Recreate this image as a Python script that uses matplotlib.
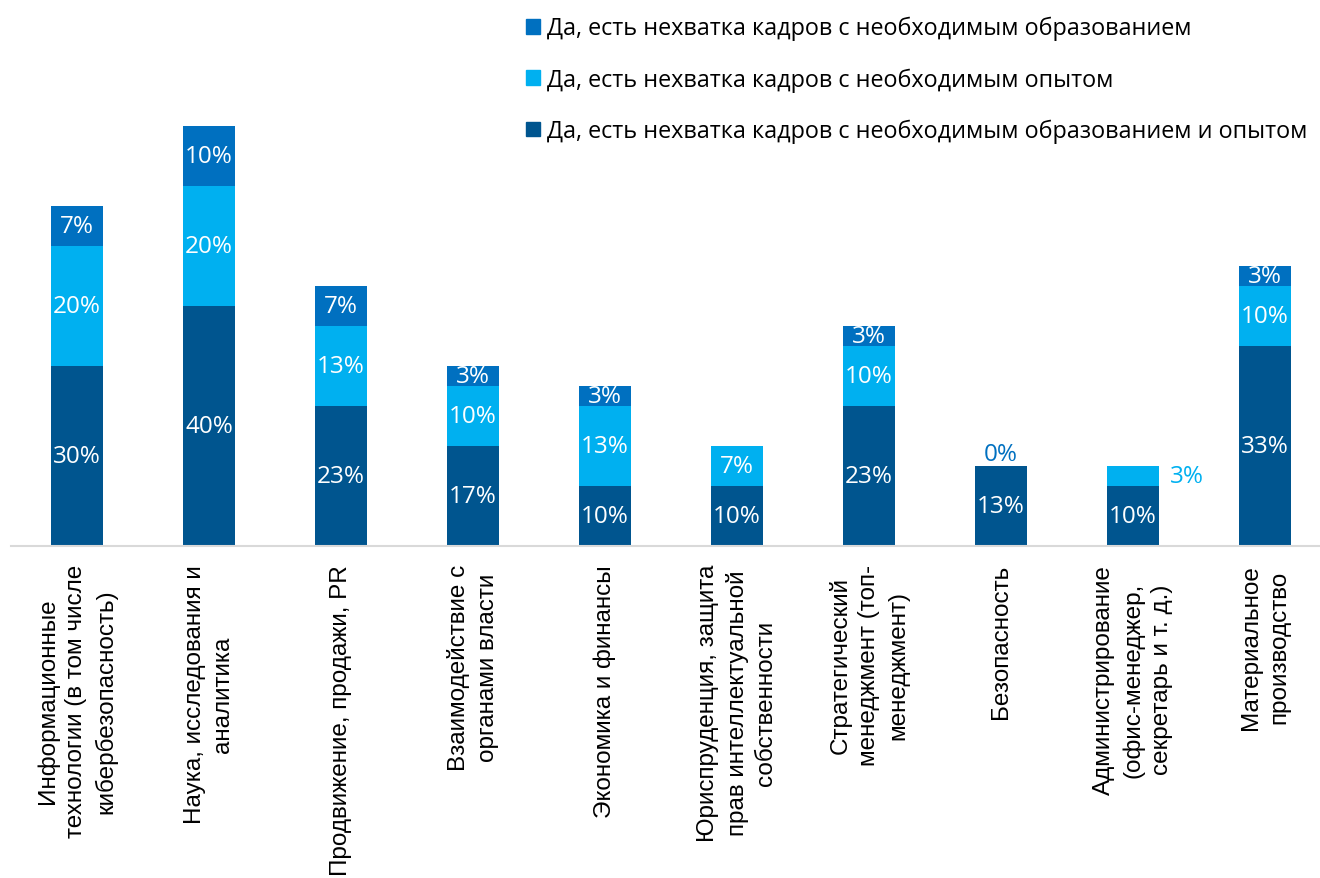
import numpy as np
import matplotlib
matplotlib.use("Agg")
import matplotlib.pyplot as plt
from matplotlib.patches import Patch

categories = [
    "Информационные\nтехнологии (в том числе\nкибербезопасность)",
    "Наука, исследования и\nаналитика",
    "Продвижение, продажи, PR",
    "Взаимодействие с\nорганами власти",
    "Экономика и финансы",
    "Юриспруденция, защита\nправ интеллектуальной\nсобственности",
    "Стратегический\nменеджмент (топ-\nменеджмент)",
    "Безопасность",
    "Администрирование\n(офис-менеджер,\nсекретарь и т. д.)",
    "Материальное\nпроизводство",
]
series_names = [
    "Да, есть нехватка кадров с необходимым образованием",
    "Да, есть нехватка кадров с необходимым опытом",
    "Да, есть нехватка кадров с необходимым образованием и опытом",
]
# values in percent
edu_and_exp = [30.0, 40.0, 23.33, 16.67, 10.0, 10.0, 23.33, 13.33, 10.0, 33.33]
experience = [20.0, 20.0, 13.33, 10.0, 13.33, 6.67, 10.0, np.nan, 3.33, 10.0]
education = [6.67, 10.0, 6.67, 3.33, 3.33, np.nan, 3.33, 0.0, np.nan, 3.33]
exp_right_label_idx = [8]  # experience label placed to the right of the bar

c_edu = "#0070C0"
c_exp = "#00B0F0"
c_both = "#00558F"

fig = plt.figure(figsize=(13.2, 8.79), dpi=100)
ax = fig.add_axes([11/1320, 332/879, 1.0, 420/879])
x = np.arange(len(categories))
w = 0.40

b_both = np.array(edu_and_exp)
b_exp = np.nan_to_num(np.array(experience))
b_edu = np.nan_to_num(np.array(education))

ax.bar(x, b_both, w, color=c_both, zorder=2)
ax.bar(x, b_exp, w, bottom=b_both, color=c_exp, zorder=2)
ax.bar(x, b_edu, w, bottom=b_both + b_exp, color=c_edu, zorder=2)

lab_font = dict(family=["Open Sans", "DejaVu Sans"], fontsize=17.5)

def put_labels(vals, bottoms, color, right_idx=()):
    for i, (v, b) in enumerate(zip(vals, bottoms)):
        if np.isnan(v):
            continue
        txt = f"{v:.0f}%"
        if v == 0:
            ax.text(i, b + 2.0, txt, ha="center", va="center", color=color, **lab_font)
        elif i in right_idx:
            ax.text(i + w/2 + 0.08, b + v/2, txt, ha="left", va="center", color=color, **lab_font)
        else:
            ax.text(i, b + v/2, txt, ha="center", va="center", color="white", **lab_font)

put_labels(np.array(edu_and_exp), np.zeros(len(x)), c_both)
put_labels(np.array(experience), b_both, c_exp, exp_right_label_idx)
put_labels(np.array(education), b_both + b_exp, c_edu)

ax.set_xlim(-0.5, 9.5)
ax.set_ylim(0, 70)
for s in ["top", "right", "left"]:
    ax.spines[s].set_visible(False)
ax.spines["bottom"].set_color("#D9D9D9")
ax.spines["bottom"].set_linewidth(1.5)
ax.set_yticks([])
ax.set_xticks(x)
ax.set_xticklabels(categories, rotation=90, ha="center", va="top",
                   multialignment="center", family=["Liberation Sans", "DejaVu Sans"],
                   fontsize=17.5, linespacing=1.38)
ax.tick_params(axis="x", length=0, pad=13)

handles = [Patch(color=c_edu), Patch(color=c_exp), Patch(color=c_both)]
fig.legend(handles, series_names, loc="upper left", bbox_to_anchor=(505/1320, 1 + 4/879),
           frameon=False, handlelength=0.6, handleheight=0.6, handletextpad=0.3,
           labelspacing=1.16, prop={"family": ["Open Sans", "DejaVu Sans"], "size": 16.8})

fig.savefig("out.png", dpi=100)
